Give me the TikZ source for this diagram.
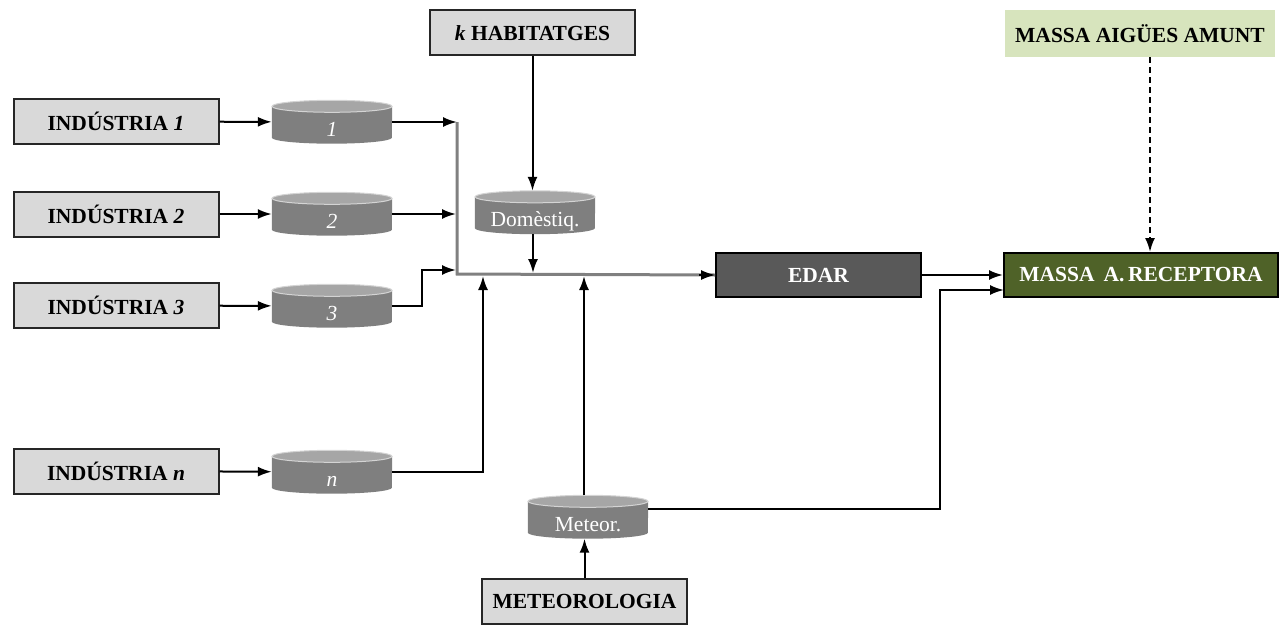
\documentclass[tikz,border=0pt]{standalone}
\usepackage{fontspec}
\setmainfont{Liberation Serif}
\usetikzlibrary{arrows.meta,backgrounds}
\definecolor{boxgray}{HTML}{D9D9D9}
\definecolor{boxline}{HTML}{262626}
\definecolor{drumbody}{HTML}{7F7F7F}
\definecolor{drumtop}{HTML}{A6A6A6}
\definecolor{drumrim}{HTML}{D4D4D4}
\definecolor{edarfill}{HTML}{595959}
\definecolor{recfill}{HTML}{4F6228}
\definecolor{amuntfill}{HTML}{D7E4BD}
\definecolor{collector}{HTML}{808080}

\begin{document}
\begin{tikzpicture}[x=1pt,y=-1pt,
  labelfont/.style={font=\fontsize{21.5}{24}\selectfont\bfseries},
  srcbox/.style={labelfont,draw=boxline,line width=2pt,fill=boxgray,
    minimum width=205pt,minimum height=45pt,inner sep=0pt},
  darkbox/.style={labelfont,draw=black,line width=2pt,text=white,
    minimum height=44pt,inner sep=0pt},
  drum/.style={minimum width=120pt,minimum height=43pt,inner sep=0pt,
    text height=30pt,text depth=2pt,
    text=white,font=\fontsize{21.5}{24}\selectfont},
  flow/.style={line width=2pt,-{Latex[length=14pt,width=10pt]}},
  bus/.style={line width=3pt,draw=collector},
]
\useasboundingbox (0,0) rectangle (1281,626);

% sources
\node[srcbox] (ind1) at (116,121.5) {INDÚSTRIA \textit{1}};
\node[srcbox] (ind2) at (116,214) {INDÚSTRIA \textit{2}};
\node[srcbox] (ind3) at (116,305.5) {INDÚSTRIA \textit{3}};
\node[srcbox] (indn) at (116,471) {INDÚSTRIA \textit{n}};
\node[srcbox] (hab) at (532.5,33) {\textit{k} HABITATGES};
\node[srcbox] (metbox) at (584.5,601.5) {METEOROLOGIA};

% storage drums
\node[drum] (c1) at (332,122) {\textit{1}};
\node[drum] (c2) at (332,214) {\textit{2}};
\node[drum] (c3) at (332,306) {\textit{3}};
\node[drum] (cn) at (332,472) {\textit{n}};
\node[drum] (dom) at (535,212.5) {Domèstiq.};
\node[drum] (met) at (588,517) {Meteor.};

% plant and receiving water
\node[darkbox,fill=edarfill,minimum width=205pt] (edar) at (818.5,275) {EDAR};
\node[darkbox,fill=recfill,minimum width=274pt] (rec) at (1141,275) {MASSA \,A.\,RECEPTORA};
\node[labelfont,fill=amuntfill,minimum width=270pt,minimum height=47pt,inner sep=0pt]
  (amunt) at (1140,33.5) {MASSA AIGÜES AMUNT};

% drum bodies drawn behind their labels
\begin{scope}[on background layer]
\foreach \d in {c1,c2,c3,cn,dom,met}{
  \fill[drumbody] ([yshift=-6pt]\d.north west) -- ([yshift=6pt]\d.south west)
    arc[start angle=180,end angle=360,x radius=60pt,y radius=6pt]
    -- ([yshift=-6pt]\d.north east) -- cycle;
  \filldraw[fill=drumtop,draw=drumrim,line width=1pt]
    ([yshift=-6pt]\d.north) ellipse[x radius=60pt,y radius=6pt];
}
\end{scope}

% collector junctions
\coordinate (j1) at (457,122);
\coordinate (j2) at (456,214);
\coordinate (j3) at (456,270);
\coordinate (jb) at (457,274);
\coordinate (jn) at (483,276);
\coordinate (jd) at (533,273);
\coordinate (jm) at (584,276);
\coordinate (k3) at (422,306);
\coordinate (km) at (940,509);
\coordinate (kr) at (1004,290);

% collector main line
\draw[bus] (j1) -- (jb) -- (edar.west);
\draw[line width=1.5pt,-{Latex[length=14pt,width=10pt]}] ([xshift=-16pt]edar.west) -- (edar.west);

% industry lines
\draw[flow] (ind1) -- (c1);
\draw[flow] (ind2) -- (c2);
\draw[flow] (ind3) -- (c3);
\draw[flow] (indn) -- (cn);
\draw[flow] (c1.east) -- (j1);
\draw[flow] (c2.east) -- (j2);
\draw[flow] (c3.east) -- (k3) |- (j3);
\draw[flow] (cn.east) -| (jn);

% domestic and weather inputs
\draw[flow] (hab.south) -- (hab.south |- dom.north);
\draw[flow] (dom.south -| jd) -- (jd);
\draw[flow] (metbox.north) -- (metbox.north |- met.south);
\draw[flow] (met.north -| jm) -- (jm);
\draw[flow] (met.east |- km) -- (km) |- (kr);

% plant outlet and upstream water
\draw[flow] (edar.east) -- (edar.east -| rec.west);
\draw[flow,dashed,dash pattern=on 6pt off 4pt] (amunt.south -| 1150,0) -- (rec.north -| 1150,0);
\end{tikzpicture}
\end{document}
